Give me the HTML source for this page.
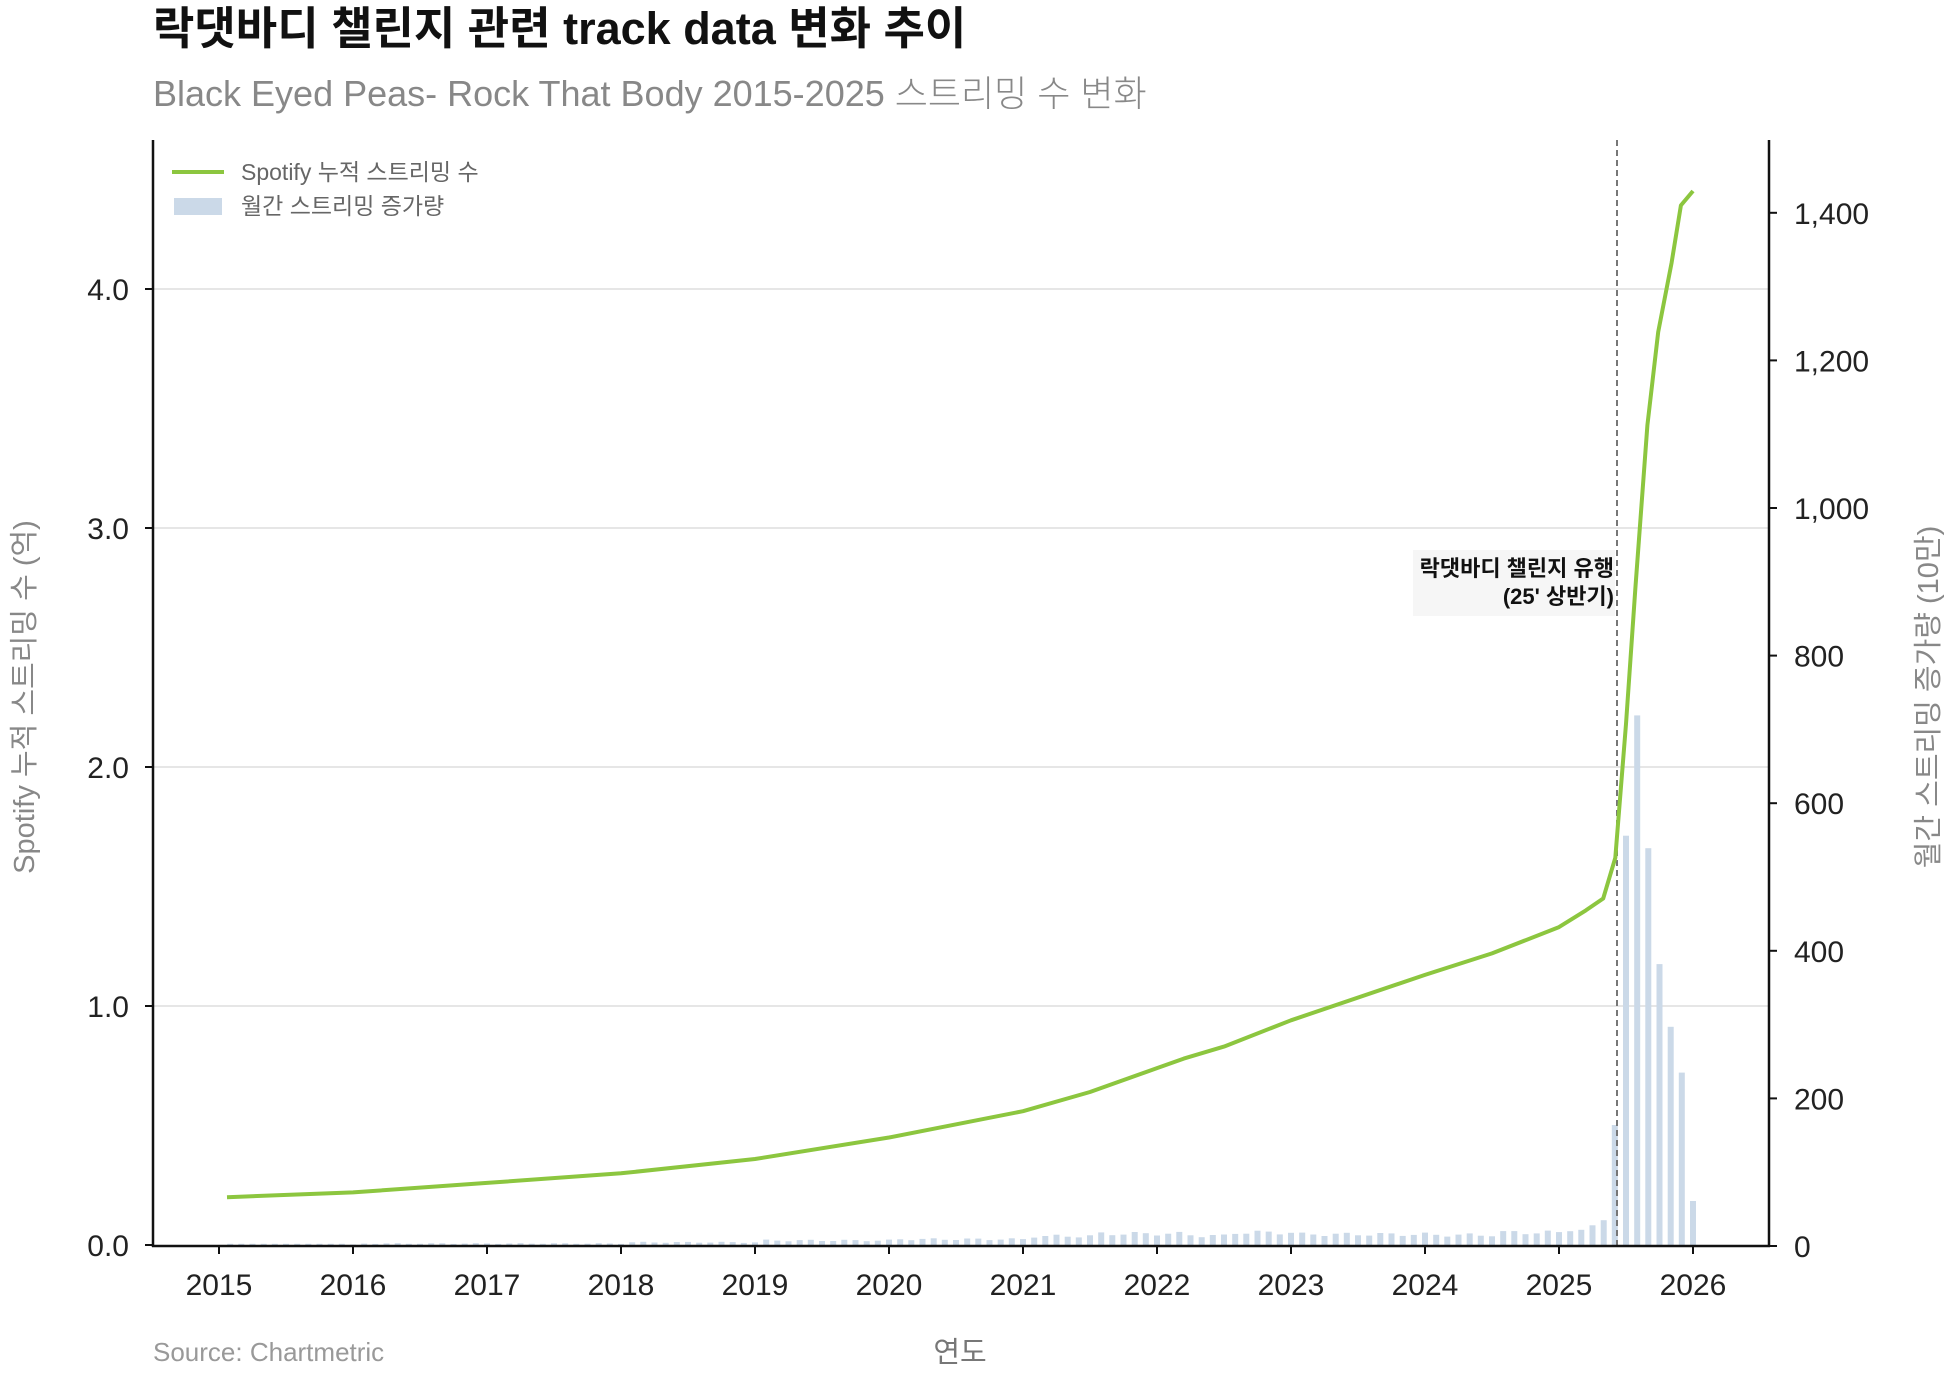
<!DOCTYPE html>
<html><head><meta charset="utf-8">
<style>
html,body{margin:0;padding:0;background:#fff;}
svg{display:block;}
text{font-family:"Liberation Sans","Noto Sans CJK KR",sans-serif;}
</style></head>
<body>
<svg id="s" width="1956" height="1380" viewBox="0 0 1956 1380" xmlns="http://www.w3.org/2000/svg">
<rect width="1956" height="1380" fill="#fff"/>
<text x="153" y="44" font-size="45" font-weight="bold" fill="#111">락댓바디 챌린지 관련 track data 변화 추이</text>
<text x="153" y="106" font-size="36" fill="#888" font-weight="300">Black Eyed Peas- Rock That Body 2015-2025 스트리밍 수 변화</text>
<g id="grid" stroke="#dddddd" stroke-width="1.5"></g>
<g id="bars" fill="#cbd9e8"></g>
<line x1="1617" x2="1617" y1="140" y2="1246" stroke="#777" stroke-width="2" stroke-dasharray="6,4"/>
<rect x="1413" y="550" width="202" height="66" fill="#f5f5f5" opacity="0.9"/>
<text x="1614" y="576" font-size="22" font-weight="bold" text-anchor="end" fill="#111">락댓바디 챌린지 유행</text>
<text x="1614" y="604" font-size="22" font-weight="bold" text-anchor="end" fill="#111">(25' 상반기)</text>
<path id="line" fill="none" stroke="#8cc63f" stroke-width="4" stroke-linejoin="round"/>
<g stroke="#111" stroke-width="2.5">
<line x1="153" x2="153" y1="140" y2="1247"/>
<line x1="1769" x2="1769" y1="140" y2="1247"/>
<line x1="152" x2="1770" y1="1246" y2="1246"/>
</g>
<g id="ticks" stroke="#111" stroke-width="2"></g>
<g id="labels" font-size="30" fill="#222"></g>
<line x1="172" x2="224" y1="172" y2="172" stroke="#8cc63f" stroke-width="4"/>
<rect x="174" y="198" width="48" height="17" fill="#cbd9e8"/>
<text x="241" y="180" font-size="23" fill="#666">Spotify 누적 스트리밍 수</text>
<text x="241" y="214" font-size="23" fill="#666">월간 스트리밍 증가량</text>
<text x="960" y="1362" font-size="29" fill="#777" text-anchor="middle">연도</text>
<text x="153" y="1361" font-size="26" fill="#999">Source: Chartmetric</text>
<text transform="translate(34,697) rotate(-90)" font-size="29" fill="#888" text-anchor="middle">Spotify 누적 스트리밍 수 (억)</text>
<text transform="translate(1938,697) rotate(-90)" font-size="29" fill="#888" text-anchor="middle">월간 스트리밍 증가량 (10만)</text>
</svg>
<script>
const NS="http://www.w3.org/2000/svg";
const X=y=>219+(y-2015)*134.0;
const YL=v=>1245-v*239;
const YR=v=>1246-v*0.738;
function el(p,tag,a,txt){const e=document.createElementNS(NS,tag);for(const k in a)e.setAttribute(k,a[k]);if(txt!==undefined)e.textContent=txt;document.getElementById(p).appendChild(e);}
for(let i=1;i<=4;i++){const y=YL(i);el("grid","line",{x1:153,x2:1769,y1:y,y2:y});}
const pts=[[2015.06,0.20],[2016,0.22],[2017,0.26],[2018,0.30],[2019,0.36],[2020,0.45],[2021,0.56],[2021.5,0.64],[2022,0.74],[2022.2,0.78],[2022.5,0.83],[2023,0.94],[2024,1.13],[2024.5,1.22],[2025,1.33],[2025.2,1.40],[2025.33,1.45],[2025.42,1.62],[2025.5,2.18],[2025.57,2.75],[2025.66,3.43],[2025.74,3.82],[2025.84,4.11],[2025.91,4.35],[2026.0,4.41]];
let d="";pts.forEach((p,i)=>{d+=(i?"L":"M")+X(p[0]).toFixed(1)+","+YL(p[1]).toFixed(1)});
document.getElementById("line").setAttribute("d",d);
function C(t){for(let i=1;i<pts.length;i++){if(t<=pts[i][0]){const a=pts[i-1],b=pts[i];return a[1]+(b[1]-a[1])*(t-a[0])/(b[0]-a[0]);}}return 4.41;}
const tall={125:164,126:556,127:719,128:539,129:382,130:297,131:235,132:61,123:28,124:35,122:22,121:20};
for(let m=1;m<=132;m++){const t=2015+m/12;let v;
 if(tall[m]!==undefined)v=tall[m];else{v=1000*(C(t)-C(t-1/12));v*=1+0.15*Math.sin(m*1.7);if(t<2016)v=3;}
 const h=v*0.738;el("bars","rect",{x:(X(t)-3).toFixed(1),y:(1246-h).toFixed(1),width:6,height:h.toFixed(1)});}
for(let i=0;i<=4;i++){const y=YL(i);el("ticks","line",{x1:145,x2:153,y1:y,y2:y});el("labels","text",{x:129,y:y+11,"text-anchor":"end"},i.toFixed(1));}
for(let i=0;i<=7;i++){const v=i*200,y=YR(v);el("ticks","line",{x1:1769,x2:1777,y1:y,y2:y});el("labels","text",{x:1794,y:y+11},v.toLocaleString("en-US"));}
for(let yr=2015;yr<=2026;yr++){const x=X(yr);el("ticks","line",{x1:x,x2:x,y1:1246,y2:1254});el("labels","text",{x:x,y:1295,"text-anchor":"middle"},yr);}
</script>
</body></html>
